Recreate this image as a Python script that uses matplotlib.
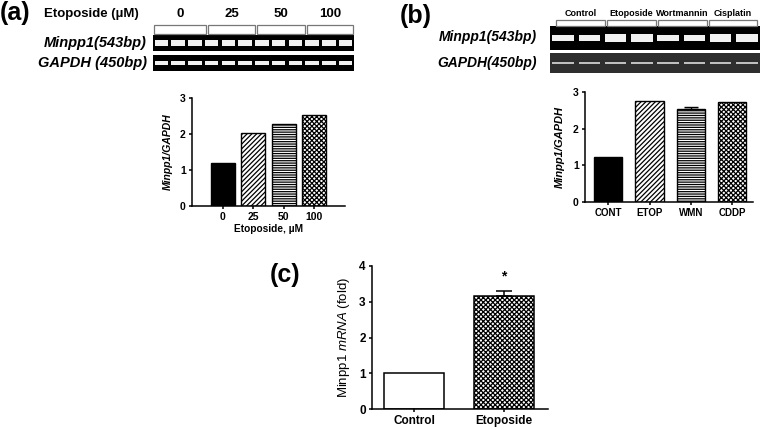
import numpy as np
import matplotlib
matplotlib.use("Agg")
import matplotlib.pyplot as plt
from matplotlib.patches import Rectangle

plt.rcParams['font.family'] = ['Liberation Sans', 'DejaVu Sans']
plt.rcParams['mathtext.fontset'] = 'custom'
plt.rcParams['mathtext.rm'] = 'Liberation Sans'
plt.rcParams['mathtext.it'] = 'Liberation Sans:italic'
plt.rcParams['hatch.linewidth'] = 0.9

# ---- data ----
a_doses = ['0', '25', '50', '100']
a_ratio = [1.20, 2.02, 2.29, 2.53]
a_minpp1_bands = [1.0] * 12
a_gapdh_bands = [1.0] * 12

b_groups = ['Control', 'Etoposide', 'Wortmannin', 'Cisplatin']
b_labels = ['CONT', 'ETOP', 'WMN', 'CDDP']
b_ratio = [1.22, 2.76, 2.53, 2.72]
b_err = [0.0, 0.0, 0.07, 0.0]
b_minpp1_bands = [0.55, 0.6, 0.85, 0.85, 0.65, 0.75, 0.95, 0.95]
b_gapdh_bands = [0.75, 0.7, 0.6, 0.6, 0.55, 0.55, 0.5, 0.5]

c_groups = ['Control', 'Etoposide']
c_fold = [1.0, 3.16]
c_err = [0.0, 0.14]

W, H = 761, 430
fig = plt.figure(figsize=(W / 100, H / 100), dpi=100)


def px_axes(x0, y0, x1, y1):
    return fig.add_axes([x0 / W, 1 - y1 / H, (x1 - x0) / W, (y1 - y0) / H])


def ftext(x, y, s, **kw):
    fig.text(x / W, 1 - y / H, s, **kw)


def style_chart(ax, size=7.5):
    for s in ['top', 'right']:
        ax.spines[s].set_visible(False)
    for s in ['left', 'bottom']:
        ax.spines[s].set_linewidth(1.1)
    ax.tick_params(width=1.1, length=2.5, labelsize=size, pad=2)
    for lab in ax.get_xticklabels() + ax.get_yticklabels():
        lab.set_fontweight('bold')


def gel(x0, y0, x1, y1, bands, bg, thick_base, thick_gain, band_color):
    ax = px_axes(x0, y0, x1, y1)
    ax.set_facecolor(bg)
    ax.set_xlim(-0.5, len(bands) - 0.5)
    ax.set_ylim(0, 1)
    ax.set_xticks([])
    ax.set_yticks([])
    for s in ax.spines.values():
        s.set_visible(False)
    lanes = np.arange(len(bands))
    th = [thick_base + thick_gain * b for b in bands]
    ax.bar(lanes, th, bottom=[0.5 - t / 2 for t in th], width=0.82,
           color=band_color, alpha=0.95)
    return ax


def brackets(x_edges, y0, y1):
    for i in range(len(x_edges) - 1):
        fig.patches.append(Rectangle((x_edges[i] / W + 0.0015, 1 - y1 / H),
                                     (x_edges[i + 1] - x_edges[i]) / W - 0.003,
                                     (y1 - y0) / H, transform=fig.transFigure,
                                     fill=False, edgecolor='#777777', lw=0.9))


# ---- panel (a) gels ----
ftext(0, 13, '(a)', fontsize=18, fontweight='bold', va='center')
ftext(44, 14, 'Etoposide (\u00b5M)', fontsize=9.5, fontweight='bold', va='center')
a_edges = [153, 207, 256, 306, 354]
brackets(a_edges, 25, 34)
for i, d in enumerate(a_doses):
    ftext((a_edges[i] + a_edges[i + 1]) / 2, 14, d, fontsize=9.5,
          fontweight='bold', ha='center', va='center')
gel(153, 35, 354, 51, a_minpp1_bands, 'black', 0.0, 0.38, 'white')
gel(153, 55, 354, 71, a_gapdh_bands, 'black', 0.0, 0.30, 'white')
ftext(147, 43, 'Minpp1(543bp)', fontsize=10.5, fontweight='bold',
      style='italic', ha='right', va='center')
ftext(147, 63, 'GAPDH (450bp)', fontsize=10.5, fontweight='bold',
      style='italic', ha='right', va='center')

# ---- panel (a) chart ----
ax = px_axes(192, 98, 345, 206)
x = np.arange(len(a_doses))
a_fc = ['black', 'white', 'white', 'white']
a_hatch = [None, '///////', '-------', 'xxxxxxx']
for i in range(len(x)):
    ax.bar(x[i], a_ratio[i], width=0.78, color=a_fc[i], edgecolor='black',
           hatch=a_hatch[i], linewidth=1.0)
ax.set_xlim(-1, 4)
ax.set_ylim(0, 3)
ax.set_yticks([0, 1, 2, 3])
ax.set_xticks(x)
ax.set_xticklabels(a_doses)
ax.set_ylabel('Minpp1/GAPDH', fontsize=7.5, fontweight='bold', style='italic',
              labelpad=5)
ax.set_xlabel('Etoposide, \u00b5M', fontsize=7.3, fontweight='bold', labelpad=1)
style_chart(ax)

# ---- panel (b) gels ----
ftext(400, 16, '(b)', fontsize=18, fontweight='bold', va='center')
b_edges = [555, 606, 657, 708, 758]
brackets(b_edges, 20, 26)
for i, g in enumerate(b_groups):
    ftext((b_edges[i] + b_edges[i + 1]) / 2, 13, g, fontsize=6.5,
          fontweight='bold', ha='center', va='center')
gel(550, 26, 760, 50, b_minpp1_bands, 'black', 0.06, 0.30, 'white')
gel(550, 53, 760, 73, b_gapdh_bands, '#2e2e2e', 0.06, 0.06, '#c8c8c8')
ftext(537, 37, 'Minpp1(543bp)', fontsize=10, fontweight='bold',
      style='italic', ha='right', va='center')
ftext(537, 63, 'GAPDH(450bp)', fontsize=10, fontweight='bold',
      style='italic', ha='right', va='center')

# ---- panel (b) chart ----
ax = px_axes(585, 92, 753, 202)
x = np.arange(len(b_labels))
for i in range(len(x)):
    ax.bar(x[i], b_ratio[i], width=0.68, color=a_fc[i], edgecolor='black',
           hatch=a_hatch[i], linewidth=1.0)
    if b_err[i] > 0:
        ax.errorbar(x[i], b_ratio[i], yerr=[[0], [b_err[i]]], color='black',
                    capsize=5, elinewidth=1.0, capthick=1.0)
ax.set_xlim(-0.56, 3.5)
ax.set_ylim(0, 3)
ax.set_yticks([0, 1, 2, 3])
ax.set_xticks(x)
ax.set_xticklabels(b_labels)
ax.set_ylabel('Minpp1/GAPDH', fontsize=8, fontweight='bold', style='italic',
              labelpad=6)
style_chart(ax)
ax.tick_params(axis='x', labelsize=7)

# ---- panel (c) chart ----
ftext(270, 275, '(c)', fontsize=18, fontweight='bold', va='center')
ax = px_axes(372, 266, 548, 409)
x = np.arange(len(c_groups))
c_fc = ['white', 'white']
c_hatch = [None, 'xxxxxxx']
for i in range(len(x)):
    ax.bar(x[i], c_fold[i], width=0.67, color=c_fc[i], edgecolor='black',
           hatch=c_hatch[i], linewidth=1.1)
    if c_err[i] > 0:
        ax.errorbar(x[i], c_fold[i], yerr=[[0], [c_err[i]]], color='black',
                    capsize=6, elinewidth=1.1, capthick=1.1)
        ax.text(x[i], c_fold[i] + c_err[i] + 0.2, '*', ha='center',
                va='bottom', fontsize=10, fontweight='bold')
ax.set_xlim(-0.47, 1.49)
ax.set_ylim(0, 4)
ax.set_yticks([0, 1, 2, 3, 4])
ax.set_xticks(x)
ax.set_xticklabels(c_groups)
ax.set_ylabel(r'Minpp1 $\mathit{mRNA}$ (fold)', fontsize=9.5, labelpad=5)
style_chart(ax, size=8.5)

fig.savefig('out.png', dpi=100)
